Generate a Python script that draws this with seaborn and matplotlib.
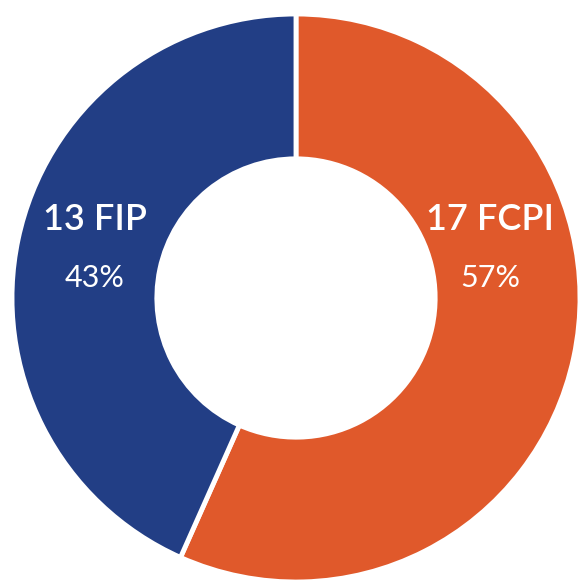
import matplotlib
matplotlib.use("Agg")
import matplotlib.pyplot as plt
import seaborn as sns

# data
fund_types = ['FCPI', 'FIP']
fund_counts = [17, 13]
colors = ['#E0592B', '#223E85']

sns.set_theme(style='white')
plt.rcParams['font.family'] = ['Lato', 'DejaVu Sans']

fig = plt.figure(figsize=(5.80, 5.82), dpi=100)
ax = fig.add_axes([12/580, 0, 568/580, 568/582])

total = sum(fund_counts)
wedges, _ = ax.pie(fund_counts, colors=colors, startangle=90, counterclock=False,
                   radius=1, wedgeprops=dict(width=0.51, edgecolor='white', linewidth=3.5))

# label positions (x, y) for each slice
pos = [(0.683, 0.275), (-0.708, 0.275)]
for (x, y), name, n in zip(pos, fund_types, fund_counts):
    pct = round(100 * n / total)
    ax.text(x, y, f'{n} {name}', ha='center', va='center', color='white',
            fontsize=26, fontweight='semibold')
    ax.text(x, y - 0.205, f'{pct}%', ha='center', va='center', color='white',
            fontsize=22, fontweight='normal')

ax.set_xlim(-1, 1)
ax.set_ylim(-1, 1)
ax.set_aspect('equal')
ax.axis('off')

fig.savefig('out.png', dpi=100, facecolor='white')
